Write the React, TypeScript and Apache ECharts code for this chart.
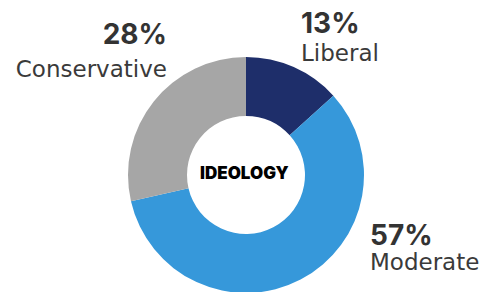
import React, { useEffect, useRef } from "react";
import * as echarts from "echarts";

const categories = ["Liberal", "Moderate", "Conservative"];
const values = [13, 57, 28];
const colors = ["#1e2e6a", "#3698da", "#a6a6a6"];
const centerTitle = "IDEOLOGY";

// label layout (x, top y, alignment, name line height)
const labelPos = [
  { x: 301, y: 8, align: "left", nameLH: 29 },
  { x: 370, y: 219.5, align: "left", nameLH: 24 },
  { x: 167, y: 19, align: "right", nameLH: 39 },
];

export default function App() {
  const ref = useRef<HTMLDivElement>(null);
  useEffect(() => {
    if (!ref.current) return;
    const chart = echarts.init(ref.current, null, { renderer: "svg" });
    const data = categories.map((name, i) => ({
      name,
      value: values[i],
      itemStyle: { color: colors[i] },
      label: {
        align: labelPos[i].align,
        rich: {
          p: { fontFamily: "Inter", fontSize: 28, fontWeight: "bold", color: "#333333", lineHeight: 30, align: labelPos[i].align },
          n: { fontFamily: "DejaVu Sans", fontSize: 23, color: "#3a3a3a", lineHeight: labelPos[i].nameLH, align: labelPos[i].align },
        },
      },
    }));
    chart.setOption({
      animation: false,
      graphic: [
        {
          type: "text",
          left: 246 - 46,
          top: 175 - 11,
          style: {
            text: centerTitle,
            font: "900 17px Inter",
            fill: "#000000",
          },
        },
      ],
      series: [
        {
          type: "pie",
          center: [246, 175],
          radius: [59, 118],
          startAngle: 90,
          clockwise: true,
          avoidLabelOverlap: false,
          itemStyle: { borderWidth: 0 },
          label: {
            show: true,
            position: "outside",
            formatter: (p: any) => `{p|${p.value}%}\n{n|${p.name}}`,
          },
          labelLine: { show: false },
          labelLayout: (params: any) => {
            const l = labelPos[params.dataIndex];
            return { x: l.x, y: l.y, align: l.align, verticalAlign: "top" };
          },
          emphasis: { disabled: true },
          data,
        },
      ],
    });
    return () => chart.dispose();
  }, []);
  return <div ref={ref} style={{ position: "absolute", left: 0, top: 0, width: 485, height: 292 }} />;
}
